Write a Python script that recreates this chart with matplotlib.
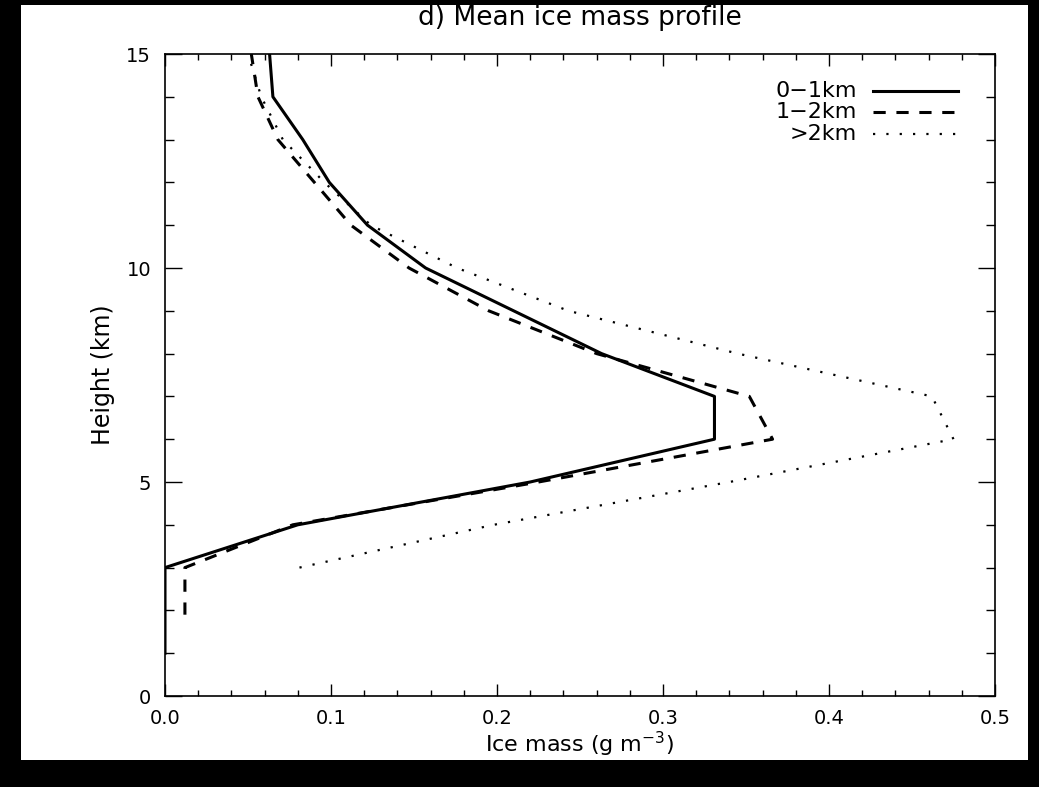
import matplotlib
matplotlib.use("Agg")
import matplotlib.pyplot as plt
from matplotlib.patches import Rectangle
from matplotlib.lines import Line2D
from matplotlib.ticker import MultipleLocator, FormatStrFormatter

# ---- data ----
h_01 = [1, 2, 3, 4, 5, 6, 7, 8, 9, 10, 11, 12, 13, 14, 15]
ice_01 = [0.0, 0.0, 0.0, 0.080, 0.220, 0.331, 0.331, 0.263, 0.210, 0.157,
          0.122, 0.099, 0.083, 0.065, 0.063]

h_12 = [1.9, 2, 3, 4, 5, 6, 7, 8, 9, 10, 11, 12, 13, 14, 15]
ice_12 = [0.012, 0.012, 0.012, 0.077, 0.225, 0.366, 0.352, 0.260, 0.195, 0.147,
          0.112, 0.090, 0.068, 0.056, 0.052]

h_2p = [3, 4, 5, 6, 7, 8, 9, 10, 11, 12, 13, 14, 15]
ice_2p = [0.081, 0.198, 0.340, 0.475, 0.462, 0.345, 0.243, 0.176, 0.124,
          0.096, 0.071, 0.058, 0.050]

labels = ["0\u22121km", "1\u22122km", ">2km"]
title = "d) Mean ice mass profile"
xlabel = "Ice mass (g m$^{-3}$)"
ylabel = "Height (km)"

W, H = 1039, 787
fig = plt.figure(figsize=(W / 100, H / 100), dpi=100, facecolor="black")
bg = Rectangle((21 / W, 1 - 760 / H), (1028 - 21) / W, (760 - 5) / H,
               transform=fig.transFigure, facecolor="white",
               edgecolor="none", zorder=-10)
fig.patches.append(bg)

ax = fig.add_axes([165 / W, 1 - 696 / H, (995 - 165) / W, (696 - 54) / H])
ax.set_zorder(5)
ax.set_facecolor("white")

styles = [dict(ls="-", lw=2.2),
          dict(ls=(0, (4.0, 3.5)), lw=2.2),
          dict(ls=(0, (1, 5)), lw=1.6)]
ax.plot(ice_01, h_01, color="black", **styles[0])
ax.plot(ice_12, h_12, color="black", **styles[1])
ax.plot(ice_2p, h_2p, color="black", **styles[2])

ax.set_xlim(0, 0.5)
ax.set_ylim(0, 15)
ax.xaxis.set_major_locator(MultipleLocator(0.1))
ax.xaxis.set_minor_locator(MultipleLocator(0.02))
ax.yaxis.set_major_locator(MultipleLocator(5))
ax.yaxis.set_minor_locator(MultipleLocator(1))
ax.xaxis.set_major_formatter(FormatStrFormatter("%.1f"))
ax.tick_params(axis="both", which="both", direction="in", top=True, right=True,
               colors="black", labelsize=14, width=1)
ax.tick_params(axis="x", which="major", length=8.6, pad=9)
ax.tick_params(axis="x", which="minor", length=4.3)
ax.tick_params(axis="y", which="major", length=12, pad=10)
ax.tick_params(axis="y", which="minor", length=6.5)
for s in ax.spines.values():
    s.set_linewidth(1.2)

ax.set_xlabel(xlabel, fontsize=16, labelpad=2)
ax.set_ylabel(ylabel, fontsize=17, labelpad=8)
fig.text(580 / W, 1 - 18 / H, title, ha="center", va="center", fontsize=19, zorder=6)

# manual legend (right-aligned text, sample line to the right)
rows_y = [91, 112, 134]
for lab, st, yy in zip(labels, styles, rows_y):
    yf = 1 - yy / H
    fig.text(857 / W, yf, lab, ha="right", va="center", fontsize=16, zorder=6)
    fig.lines.append(Line2D([873 / W, 958 / W], [yf, yf], transform=fig.transFigure,
                            color="black", zorder=6, **st))

fig.savefig("out.png", dpi=100, facecolor="black")
